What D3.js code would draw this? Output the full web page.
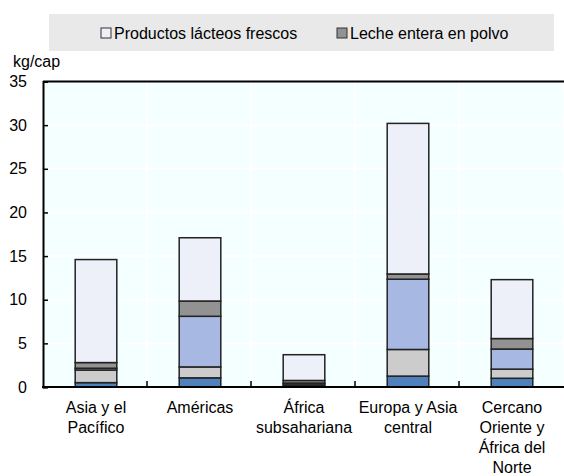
<!DOCTYPE html>
<html><head><meta charset="utf-8">
<script src="https://cdn.jsdelivr.net/npm/d3@7"></script>
<style>body{margin:0;background:#fff}svg{display:block;font-family:"Liberation Sans",Arial,sans-serif}</style>
</head><body><svg id="c" width="564" height="476"></svg>
<script>
const categories = [["Asia y el","Pacífico"],["Américas"],["África","subsahariana"],["Europa y Asia","central"],["Cercano","Oriente y","África del","Norte"]];
const seriesNames = ["Mantequilla","Queso","Leche descremada en polvo","Leche entera en polvo","Productos lácteos frescos"];
const mantequilla = [0.5, 1.05, 0.15, 1.25, 1.0];
const queso = [1.45, 1.25, 0.2, 3.05, 1.05];
const lecheDescremada = [0.2, 5.8, 0.1, 8.05, 2.3];
const lecheEntera = [0.65, 1.75, 0.3, 0.6, 1.2];
const frescos = [11.8, 7.25, 2.95, 17.25, 6.75];
const colors = ["#4F81BD","#CCCCCC","#A7B9E3","#929292","#EDF0F8"];
const yTicks = [0,5,10,15,20,25,30,35];
const legendItems = [{name:"Productos lácteos frescos", color:"#EDF0F8"},{name:"Leche entera en polvo", color:"#929292"}];

const svg = d3.select("#c");
const m = {l:43, r:1, t:81.5, b:89};
const W = 564, H = 476;
const x = d3.scaleBand().domain(d3.range(categories.length)).range([m.l, W-m.r]).paddingInner(0).paddingOuter(0);
const y = d3.scaleLinear().domain([0,35]).range([H-m.b, m.t]);

// legend
svg.append("rect").attr("x",49).attr("y",14).attr("width",505).attr("height",37).attr("fill","#E9E9E9");
const lx = [101, 337];
legendItems.forEach((d,i)=>{
  svg.append("rect").attr("x",lx[i]).attr("y",28).attr("width",10).attr("height",10).attr("fill",d.color).attr("stroke","#333").attr("stroke-width",1);
  svg.append("text").attr("x",lx[i]+13).attr("y",39).attr("font-size",16).attr("fill","#000").text(d.name);
});

// plot bg
svg.append("rect").attr("x",m.l).attr("y",m.t).attr("width",W-m.r-m.l).attr("height",H-m.b-m.t).attr("fill","#F4FFFF");
// grid
svg.append("g").selectAll("line").data(yTicks.slice(1,-1)).join("line")
  .attr("x1",m.l).attr("x2",W-m.r).attr("y1",d=>y(d)).attr("y2",d=>y(d)).attr("stroke","#fff").attr("stroke-width",2);
svg.append("g").selectAll("line").data(d3.range(1,categories.length)).join("line")
  .attr("x1",d=>x(d)).attr("x2",d=>x(d)).attr("y1",m.t).attr("y2",H-m.b).attr("stroke","#fff").attr("stroke-width",2);

// stacks
const rows = categories.map((c,i)=>({i, s0:mantequilla[i], s1:queso[i], s2:lecheDescremada[i], s3:lecheEntera[i], s4:frescos[i]}));
const stack = d3.stack().keys(["s0","s1","s2","s3","s4"])(rows);
const bw = x.bandwidth()*0.4;
stack.forEach((layer,k)=>{
  svg.append("g").selectAll("rect").data(layer).join("rect")
    .attr("x",d=>x(d.data.i)+x.bandwidth()/2-bw/2+1)
    .attr("width",bw)
    .attr("y",d=>y(d[1]))
    .attr("height",d=>y(d[0])-y(d[1]))
    .attr("fill",colors[k]).attr("stroke","#222").attr("stroke-width",1.5);
});

// axes
const yAxis = d3.axisLeft(y).tickValues(yTicks).tickSize(-5).tickPadding(16);
const ga = svg.append("g").attr("transform",`translate(${m.l},0)`).call(yAxis);
ga.select(".domain").attr("stroke","#000").attr("stroke-width",2);
ga.selectAll(".tick line").attr("stroke","#000").attr("stroke-width",1.5);
ga.selectAll(".tick text").attr("font-size",16).attr("fill","#000").attr("font-family","Liberation Sans, Arial, sans-serif");
svg.append("line").attr("x1",m.l).attr("x2",W).attr("y1",m.t).attr("y2",m.t).attr("stroke","#000").attr("stroke-width",2);
svg.append("line").attr("x1",m.l-1).attr("x2",W).attr("y1",H-m.b).attr("y2",H-m.b).attr("stroke","#000").attr("stroke-width",2);
svg.append("g").selectAll("line").data(d3.range(1,categories.length)).join("line")
  .attr("x1",d=>x(d)).attr("x2",d=>x(d)).attr("y1",H-m.b).attr("y2",H-m.b-6).attr("stroke","#000").attr("stroke-width",1.5);

svg.append("text").attr("x",13).attr("y",67).attr("font-size",16).attr("fill","#000").text("kg/cap");

// category labels
const cl = svg.append("g");
categories.forEach((lines,i)=>{
  const t = cl.append("text").attr("x",x(i)+x.bandwidth()/2+1).attr("y",413).attr("text-anchor","middle").attr("font-size",16).attr("fill","#000");
  lines.forEach((ln,j)=>t.append("tspan").attr("x",x(i)+x.bandwidth()/2+1).attr("dy",j?20:0).text(ln));
});
</script></body></html>
